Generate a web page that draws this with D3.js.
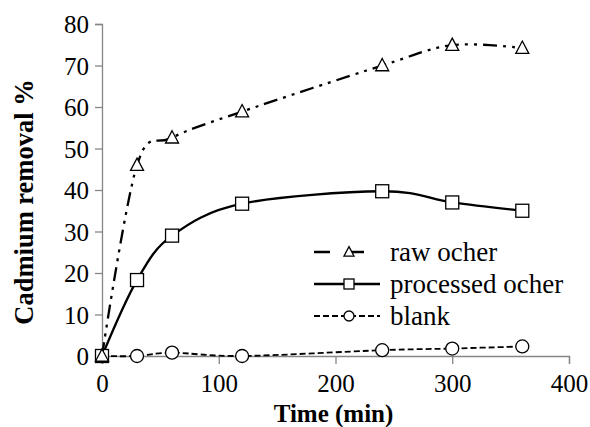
<!DOCTYPE html>
<html>
<head>
<meta charset="utf-8">
<script src="https://cdn.jsdelivr.net/npm/d3@7"></script>
<style>
  body { margin: 0; background: #fff; }
</style>
</head>
<body>
<div id="chart"></div>
<script>
// données
var temps = [0, 30, 60, 120, 240, 300, 360];
var ocreBrute = [0, 46, 52.6, 58.9, 70, 74.9, 74.2];
var ocreTraitee = [0, 18.3, 29, 36.7, 39.7, 37, 35];
var blanc = [0, 0, 0.8, 0, 1.4, 1.8, 2.3];
var xTicks = [0, 100, 200, 300, 400];
var yTicks = [0, 10, 20, 30, 40, 50, 60, 70, 80];
var series = [
    {nom: "raw ocher", valeurs: ocreBrute, symbole: "triangle", dash: "14,6,3,6,3,6"},
    {nom: "processed ocher", valeurs: ocreTraitee, symbole: "square", dash: null},
    {nom: "blank", valeurs: blanc, symbole: "circle", dash: "6,3"}
];

var police = "'Liberation Serif'";

var margin = {top: 24, right: 21, bottom: 71, left: 102},
    width = 590 - margin.left - margin.right,
    height = 427 - margin.top - margin.bottom;

var svg = d3.select("#chart").append("svg")
    .attr("width", 590)
    .attr("height", 427)
    .style("font-family", police)
    .append("g")
    .attr("transform", "translate(" + margin.left + "," + margin.top + ")");

var x = d3.scaleLinear().domain([0, 400]).range([0, width]);
var y = d3.scaleLinear().domain([0, 80]).range([height, 0]);

// axes
var axeX = svg.append("g")
    .attr("transform", "translate(0," + height + ")")
    .call(d3.axisBottom(x).tickValues(xTicks).tickSize(8).tickPadding(10));
var axeY = svg.append("g")
    .call(d3.axisLeft(y).tickValues(yTicks).tickSize(7).tickPadding(6));

[axeX, axeY].forEach(function(a) {
    a.attr("font-family", null).attr("font-size", null);
    a.select(".domain").attr("stroke", "#868686").attr("stroke-width", 1.3);
    a.selectAll(".tick line").attr("stroke", "#868686").attr("stroke-width", 1.3);
    a.selectAll(".tick text")
        .attr("fill", "#000")
        .style("font-size", "25px")
        .style("font-family", police);
});
axeY.selectAll(".tick text").attr("dy", "0.34em");

// titres des axes
svg.append("text")
    .attr("x", x(200) - 2)
    .attr("y", height + 66)
    .attr("text-anchor", "middle")
    .style("font-family", police)
    .style("font-size", "25px")
    .style("font-weight", "bold")
    .text("Time (min)");

svg.append("text")
    .attr("transform", "rotate(-90)")
    .attr("x", -(202 - margin.top))
    .attr("y", -margin.left + 33)
    .attr("text-anchor", "middle")
    .style("font-family", police)
    .style("font-size", "26.5px")
    .style("font-weight", "bold")
    .text("Cadmium removal %");

// courbes lissées
var ligne = d3.line()
    .x(function(d) { return x(d[0]); })
    .y(function(d) { return y(d[1]); })
    .curve(d3.curveCatmullRom.alpha(0));

function dessineSymbole(g, type, cx, cy, taille) {
    if (type === "triangle") {
        var h = taille * 0.9;
        g.append("path")
            .attr("d", "M" + cx + "," + (cy - h * 0.6) + "L" + (cx + taille / 2) + "," + (cy + h * 0.45) +
                "L" + (cx - taille / 2) + "," + (cy + h * 0.45) + "Z")
            .attr("fill", "#fff").attr("stroke", "#000").attr("stroke-width", 1.3);
    } else if (type === "square") {
        g.append("rect")
            .attr("x", cx - taille / 2).attr("y", cy - taille / 2)
            .attr("width", taille).attr("height", taille)
            .attr("fill", "#fff").attr("stroke", "#000").attr("stroke-width", 1.3);
    } else {
        g.append("circle")
            .attr("cx", cx).attr("cy", cy).attr("r", taille / 2)
            .attr("fill", "#fff").attr("stroke", "#000").attr("stroke-width", 1.3);
    }
}

series.slice().reverse().forEach(function(s) {
    var pts = temps.map(function(t, i) { return [t, s.valeurs[i]]; });
    svg.append("path")
        .datum(pts)
        .attr("fill", "none")
        .attr("stroke", "#000")
        .attr("stroke-width", s.dash === "6,3" ? 1.8 : 2.3)
        .attr("stroke-dasharray", s.dash)
        .attr("d", ligne);
    var g = svg.append("g");
    pts.forEach(function(p) {
        dessineSymbole(g, s.symbole, x(p[0]), y(p[1]), 13);
    });
});

// légende
var legende = svg.selectAll(".legend")
    .data(series)
    .enter().append("g")
    .attr("class", "legend")
    .attr("transform", function(d, i) { return "translate(0," + (228 + i * 32) + ")"; });

legende.append("line")
    .attr("x1", 212).attr("x2", 278)
    .attr("stroke", "#000")
    .attr("stroke-width", function(d) { return d.dash === "6,3" ? 1.8 : 2.3; })
    .attr("stroke-dasharray", function(d) {
        return d.dash === null ? null : (d.dash === "6,3" ? "6,3" : "16,18,16");
    });

legende.each(function(d) {
    dessineSymbole(d3.select(this), d.symbole, 247, 0, 10);
});

legende.append("text")
    .attr("x", 288)
    .attr("y", 0)
    .attr("dy", "0.33em")
    .style("font-family", police)
    .style("font-size", "27px")
    .text(function(d) { return d.nom; });
</script>
</body>
</html>
